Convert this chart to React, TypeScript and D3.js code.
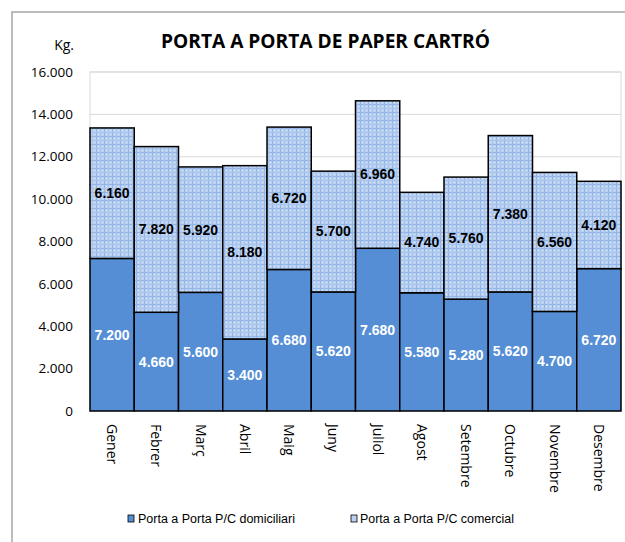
import React from "react";
import * as d3 from "d3";

const months = ["Gener","Febrer","Març","Abril","Maig","Juny","Juliol","Agost","Setembre","Octubre","Novembre","Desembre"];
const domiciliari = [7200,4660,5600,3400,6680,5620,7680,5580,5280,5620,4700,6720];
const comercial = [6160,7820,5920,8180,6720,5700,6960,4740,5760,7380,6560,4120];
const yTicks = [0,2000,4000,6000,8000,10000,12000,14000,16000];
const seriesNames = ["Porta a Porta P/C domiciliari","Porta a Porta P/C comercial"];
const title = "PORTA A PORTA DE PAPER CARTRÓ";
const unit = "Kg.";

const W = 625, H = 542;
const plot = { left: 90, right: 621, top: 72, bottom: 411 };

const fmt = (v: number) => {
  const s = d3.format(",")(v);
  return s.replace(/,/g, ".");
};

export default function App() {
  const x = d3.scaleBand<string>().domain(months).range([plot.left, plot.right]).paddingInner(0).paddingOuter(0);
  const y = d3.scaleLinear().domain([0, 16000]).range([plot.bottom, plot.top]);
  const stack = d3.stack<any>().keys(["dom", "com"]);
  const rows = months.map((m, i) => ({ m, dom: domiciliari[i], com: comercial[i] }));
  const series = stack(rows);
  const tickFont = "'Open Sans', sans-serif";
  return (
    <svg width={W} height={H} style={{ position: "absolute", left: 0, top: 0, background: "#fff" }}>
      <defs>
        <pattern id="grid" width="8" height="8" patternUnits="userSpaceOnUse">
          <rect width="8" height="8" fill="#B9D0F1" />
          <rect x="0" y="0" width="8" height="1" fill="#92B5E7" />
          <rect x="0" y="0" width="1" height="8" fill="#92B5E7" />
          <rect x="2" y="2" width="1" height="1" fill="#DCE8F9" />
          <rect x="6" y="2" width="1" height="1" fill="#DCE8F9" />
          <rect x="2" y="6" width="1" height="1" fill="#DCE8F9" />
          <rect x="6" y="6" width="1" height="1" fill="#DCE8F9" />
          <rect x="4" y="0" width="1" height="8" fill="#ABC6EE" />
          <rect x="0" y="4" width="8" height="1" fill="#ABC6EE" />
        </pattern>
      </defs>
      <rect x={12} y={12} width={W} height={H} fill="#fff" stroke="#A6A6A6" strokeWidth={1.5} />
      <text x={325.5} y={48} textAnchor="middle" fontFamily={tickFont} fontWeight="bold" fontSize={19} textLength={329} lengthAdjust="spacingAndGlyphs" fill="#000">{title}</text>
      <text x={74} y={50} textAnchor="end" fontFamily={tickFont} fontSize={14} fill="#000">{unit}</text>
      <rect x={plot.left} y={plot.top} width={plot.right - plot.left} height={plot.bottom - plot.top} fill="none" stroke="#D9D9D9" />
      {yTicks.map(t => (
        <g key={t}>
          {t > 0 && <line x1={plot.left} x2={plot.right} y1={y(t)} y2={y(t)} stroke="#D9D9D9" />}
          <text x={73} y={y(t)} dy="0.35em" textAnchor="end" fontFamily={tickFont} fontSize={13.5} fill="#000">{fmt(t)}</text>
        </g>
      ))}
      {series.map((s, si) => (
        <g key={si}>
          {s.map((d, i) => (
            <rect key={i} x={x(months[i])!} y={y(d[1])} width={x.bandwidth()} height={y(d[0]) - y(d[1])}
              fill={si === 0 ? "#558ED5" : "url(#grid)"} stroke="#000" strokeWidth={1.5} />
          ))}
        </g>
      ))}
      {series.map((s, si) => (
        <g key={"l" + si}>
          {s.map((d, i) => (
            <text key={i} x={x(months[i])! + x.bandwidth() / 2} y={(y(d[0]) + y(d[1])) / 2} dy="0.35em" textAnchor="middle"
              fontFamily="'Liberation Sans', Arial, sans-serif" fontWeight="bold" fontSize={14}
              fill={si === 0 ? "#fff" : "#000"}>{fmt(d[1] - d[0])}</text>
          ))}
        </g>
      ))}
      {months.map(m => (
        <text key={m} transform={`translate(${x(m)! + x.bandwidth() / 2},424) rotate(90)`} dy="0.35em" textAnchor="start"
          fontFamily={tickFont} fontSize={14} fill="#000">{m}</text>
      ))}
      <g>
        <rect x={128} y={515} width={6} height={7} fill="#558ED5" stroke="#000" strokeWidth={0.8} />
        <text x={138} y={519} dy="0.35em" fontFamily="'Liberation Sans', Arial, sans-serif" fontSize={12} textLength={157} lengthAdjust="spacingAndGlyphs" fill="#000">{seriesNames[0]}</text>
        <rect x={351} y={515} width={6} height={7} fill="#B9D0F1" stroke="#000" strokeWidth={0.8} />
        <text x={360} y={519} dy="0.35em" fontFamily="'Liberation Sans', Arial, sans-serif" fontSize={12} textLength={154} lengthAdjust="spacingAndGlyphs" fill="#000">{seriesNames[1]}</text>
      </g>
    </svg>
  );
}
